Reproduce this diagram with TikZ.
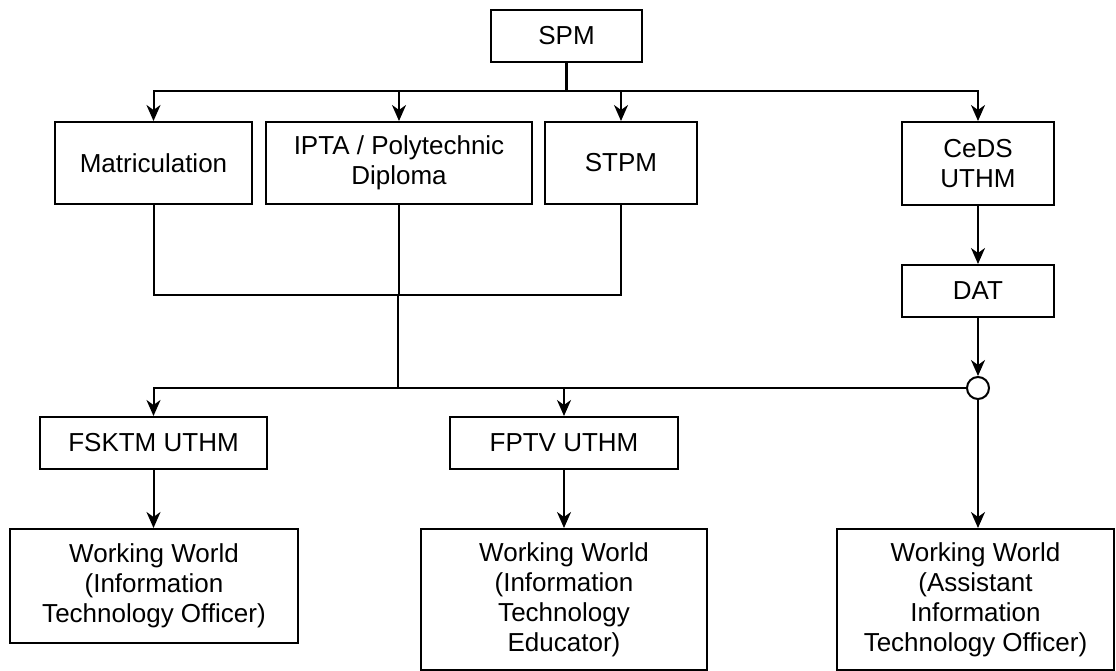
\documentclass[tikz,border=0pt]{standalone}
\usepackage{fontspec}
\setmainfont{Liberation Sans}
\usetikzlibrary{arrows.meta}
\begin{document}
\begin{tikzpicture}[x=1pt,y=-1pt,
  box/.style={draw=black, line width=2pt, fill=white, inner sep=0pt, align=center,
    font=\fontsize{26}{30}\selectfont},
  link/.style={draw=black, line width=2pt},
  arr/.style={link, -{Stealth[length=16pt,width=14pt,inset=5pt]}},
  junction/.style={draw=black, line width=2pt, fill=white, circle, inner sep=0pt, minimum size=22pt}]
\useasboundingbox (0,0) rectangle (1116,671);

\node[box, minimum width=151pt, minimum height=52pt] (spm) at (566.5,36) {SPM};
\node[box, minimum width=197pt, minimum height=82pt] (matric) at (153.5,163) {Matriculation};
\node[box, minimum width=266pt, minimum height=82pt] (ipta) at (399,163) {IPTA / Polytechnic\\Diploma};
\node[box, minimum width=152pt, minimum height=82pt] (stpm) at (621,163) {STPM};
\node[box, minimum width=152pt, minimum height=83pt] (ceds) at (978,163.5) {CeDS\\UTHM};
\node[box, minimum width=152pt, minimum height=52pt] (dat) at (978,291) {DAT};
\node[junction] (circ) at (978,388) {};
\node[box, minimum width=227pt, minimum height=52pt] (fsktm) at (153.5,443) {FSKTM UTHM};
\node[box, minimum width=228pt, minimum height=52pt] (fptv) at (564,443) {FPTV UTHM};
\node[box, minimum width=288pt, minimum height=114pt] (ww1) at (154,586) {Working World\\(Information\\Technology Officer)};
\node[box, minimum width=286pt, minimum height=141pt] (ww2) at (564,599.5) {Working World\\(Information\\Technology\\Educator)};
\node[box, minimum width=277pt, minimum height=141pt] (ww3) at (975.5,599.5) {Working World\\(Assistant\\Information\\Technology Officer)};

\coordinate (j1) at (566.5,91);
\coordinate (j2) at (398,295);
\coordinate (j3) at (398,388);

\draw[link, line width=2.6pt] (spm.south) -- (j1);
\draw[arr] (j1) -| (matric.north);
\draw[arr] (j1) -| (ipta.north);
\draw[arr] (j1) -| (stpm.north);
\draw[arr] (j1) -| (ceds.north);

\draw[link] (matric.south) |- (j2) -| (stpm.south);
\draw[link] (ipta.south |- j2) -- (ipta.south);
\draw[link] (j2) -- (j3);

\draw[arr] (ceds) -- (dat);
\draw[arr] (dat) -- (circ);
\draw[arr] (circ.west) -| (fsktm.north);
\draw[arr] (circ.west) -| (fptv.north);
\draw[arr] (circ.south) -- (circ.south |- ww3.north);
\draw[arr] (fsktm.south) -- (fsktm.south |- ww1.north);
\draw[arr] (fptv) -- (ww2);
\end{tikzpicture}
\end{document}
